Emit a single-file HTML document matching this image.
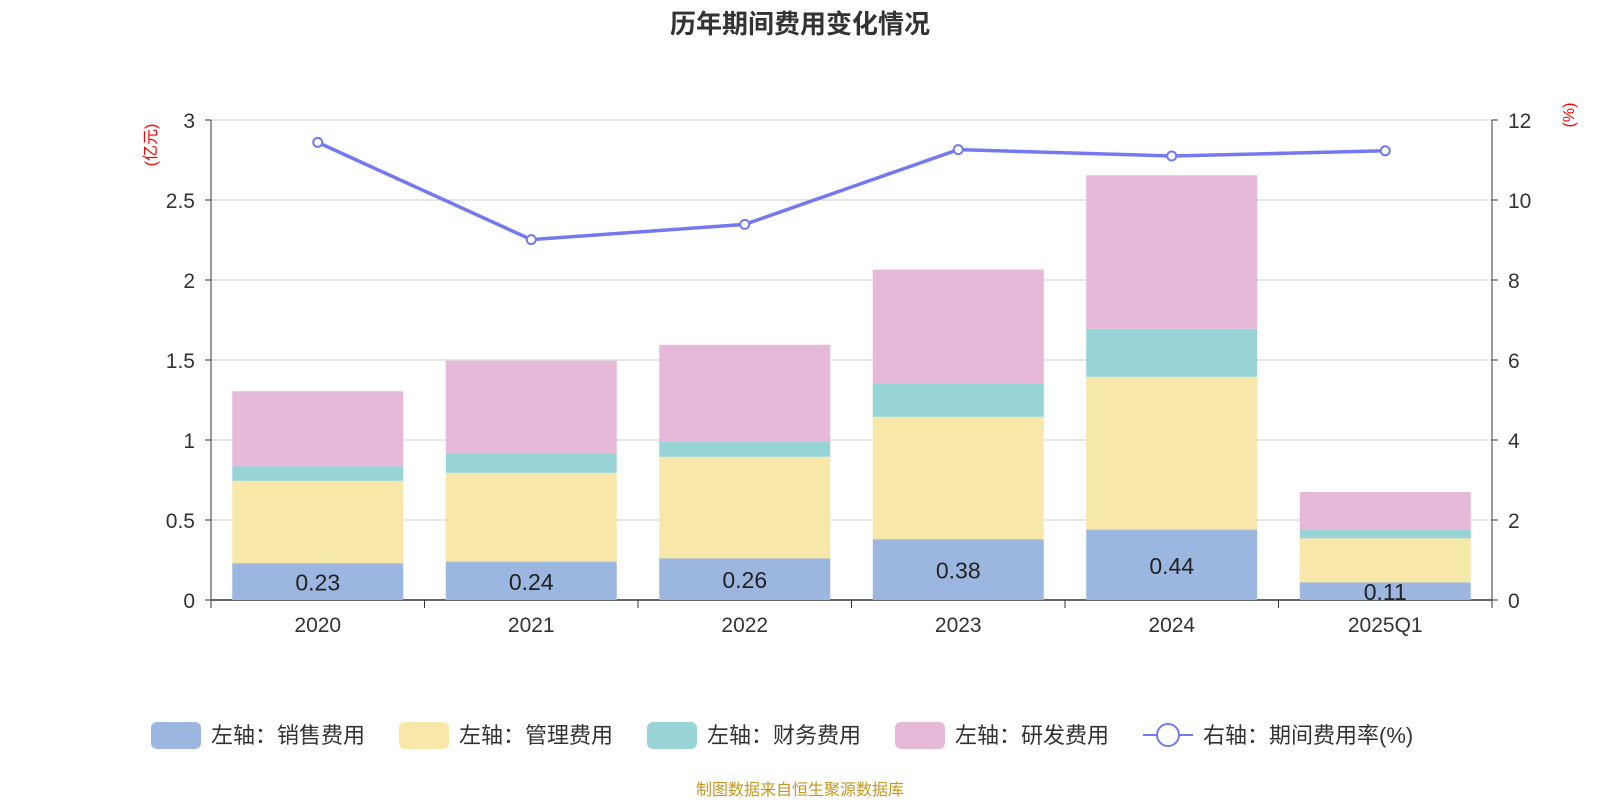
<!DOCTYPE html>
<html><head><meta charset="utf-8"><style>
body{margin:0;width:1600px;height:800px;background:#fff;overflow:hidden;font-family:"Liberation Sans","Noto Sans CJK SC",sans-serif}
</style></head><body>
<svg id="c" width="1600" height="800" xmlns="http://www.w3.org/2000/svg">
<text x="800" y="33" text-anchor="middle" font-size="26" font-weight="bold" fill="#333">历年期间费用变化情况</text>
<text x="800" y="795" text-anchor="middle" font-size="16" fill="#c8961e">制图数据来自恒生聚源数据库</text>
</svg>
<script>
const categories=["2020","2021","2022","2023","2024","2025Q1"];
const sales=[0.23,0.24,0.26,0.38,0.44,0.11];
const mgmt=[0.515,0.555,0.635,0.765,0.955,0.275];
const fin=[0.09,0.12,0.095,0.205,0.30,0.055];
const rd=[0.47,0.58,0.605,0.715,0.96,0.235];
const rate=[11.44,9.01,9.39,11.26,11.1,11.23];
const leftTicks=[0,0.5,1,1.5,2,2.5,3];
const rightTicks=[0,2,4,6,8,10,12];
const svg=document.getElementById('c');const NS='http://www.w3.org/2000/svg';
const L=211,R=1492,T=120,B=600;
const yL=v=>B-(v/3)*(B-T), yR=v=>B-(v/12)*(B-T);
const bw=(R-L)/categories.length, xc=i=>L+bw*(i+0.5);
function el(t,a,txt){const e=document.createElementNS(NS,t);for(const k in a)e.setAttribute(k,a[k]);if(txt!==undefined)e.textContent=txt;svg.appendChild(e);return e;}
leftTicks.forEach((v,i)=>{
 const g=el('line',{x1:L,x2:R,y1:yL(v),y2:yL(v),stroke:v===0?'#333':'#ccc','stroke-width':v===0?1.5:1});
 
 const t=el('text',{x:L-16,y:yL(v)+8,'text-anchor':'end','font-size':21,fill:'#333'},v);
 
 el('line',{x1:L-6,x2:L,y1:yL(v),y2:yL(v),stroke:'#333'});
});
rightTicks.forEach(v=>{
 const t=el('text',{x:R+16,y:yR(v)+8,'font-size':21,fill:'#333'},v);
 
 el('line',{x1:R,x2:R+6,y1:yR(v),y2:yR(v),stroke:'#333'});
});
el('line',{x1:L,x2:L,y1:T,y2:B+8,stroke:'#333'});
el('line',{x1:R,x2:R,y1:T,y2:B+8,stroke:'#333'});
const u1=el('text',{x:0,y:0,'font-size':16,fill:'red',transform:`translate(156,145) rotate(-90)`,'text-anchor':'middle'},'(亿元)');

const u2=el('text',{x:0,y:0,'font-size':16,fill:'red',transform:`translate(1574,115) rotate(-90)`,'text-anchor':'middle'},'(%)');

for(let i=0;i<=categories.length;i++)el('line',{x1:L+bw*i,x2:L+bw*i,y1:B,y2:B+8,stroke:'#333'});
const series=[[sales,'#9bb7e0','sales'],[mgmt,'#f7e7a8','mgmt'],[fin,'#98d4d5','finance'],[rd,'#e6b9d8','rd']];
const bwid=171;
categories.forEach((c,i)=>{
 let base=0;
 series.forEach(([arr,col,n])=>{
  const r=el('rect',{x:xc(i)-bwid/2,y:yL(base+arr[i]),width:bwid,height:yL(base)-yL(base+arr[i]),fill:col});
  
  base+=arr[i];
 });
 const lb=el('text',{x:xc(i),y:(yL(0)+yL(sales[i]))/2+9,'text-anchor':'middle','font-size':23,fill:'#222'},sales[i].toFixed(2));
 
 const xl=el('text',{x:xc(i),y:B+32,'text-anchor':'middle','font-size':21,fill:'#333'},c);
 
});
const ln=el('polyline',{points:rate.map((v,i)=>xc(i)+','+yR(v)).join(' '),fill:'none',stroke:'#7479f0','stroke-width':3.5});

rate.forEach((v,i)=>{const p=el('circle',{cx:xc(i),cy:yR(v),r:4.5,fill:'#fff',stroke:'#7479f0','stroke-width':2});
 });
const leg=[['左轴：销售费用','#9bb7e0',151],['左轴：管理费用','#f7e7a8',399],['左轴：财务费用','#98d4d5',647],['左轴：研发费用','#e6b9d8',895]];
leg.forEach(([t,c,x])=>{
 const r=el('rect',{x:x,y:722,width:50,height:27,rx:6,fill:c});
 
 const tx=el('text',{x:x+60,y:743,'font-size':22,fill:'#333'},t);
 
});
el('line',{x1:1143,x2:1193,y1:735,y2:735,stroke:'#7479f0','stroke-width':2});
el('circle',{cx:1168,cy:735,r:11,fill:'#fff',stroke:'#7479f0','stroke-width':2});
const lt=el('text',{x:1203,y:743,'font-size':22,fill:'#333'},'右轴：期间费用率(%)');

</script>
</body></html>
